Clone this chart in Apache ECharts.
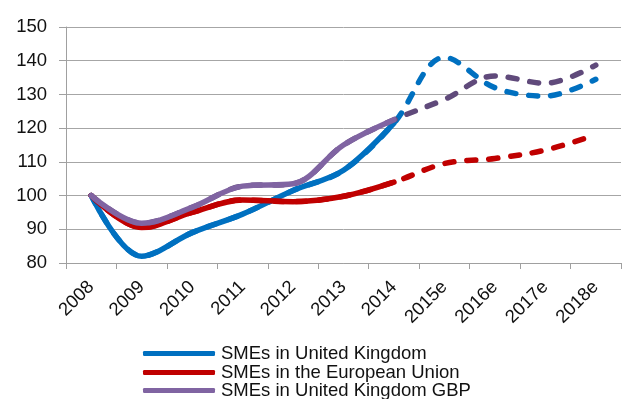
<!DOCTYPE html>
<html>
<head>
<meta charset="utf-8">
<script src="https://cdn.jsdelivr.net/npm/echarts@6/dist/echarts.min.js"></script>
<style>
  html, body { margin: 0; padding: 0; background: #fff; }
  #chart { width: 622px; height: 399px; }
</style>
</head>
<body>
<div id="chart"></div>
<script>
// Index values, 2008 = 100; years marked "e" are estimates
const years = ['2008', '2009', '2010', '2011', '2012', '2013', '2014', '2015e', '2016e', '2017e', '2018e'];
const smeUK = [100, 82, 89, 94.5, 101.5, 107.5, 121.5, 141, 132, 129.5, 134.5];
const smeEU = [100, 90.5, 95, 98.7, 98.2, 99.8, 104, 109.5, 111, 113.5, 118];
const smeUKGBP = [100, 91.8, 96.5, 102.8, 103.5, 115, 122.5, 128.5, 135.5, 133.3, 138.7];
const yTicks = { min: 80, max: 150, step: 10 };

const seriesNames = ['SMEs in United Kingdom', 'SMEs in the European Union', 'SMEs in United Kingdom GBP'];

// Last year with actual (non-estimated) figures
const lastActual = years.indexOf('2014');

const FONT = '"Liberation Sans", Arial, sans-serif';
const SMOOTH = 0.35;

function actualPart(values) {
  return values.map((v, i) => (i <= lastActual ? v : null));
}

// Each line: a dashed series over the full range, covered by a solid series for the actual years
function buildSeries(name, values, solidColor, dashColor, z) {
  return [
    {
      name: name + ' (estimate)',
      type: 'line',
      data: values,
      smooth: SMOOTH,
      symbol: 'none',
      z: z,
      lineStyle: { color: dashColor, width: 5.5, type: [9, 13], cap: 'round', join: 'round' },
      itemStyle: { color: dashColor },
      silent: true
    },
    {
      name: name,
      type: 'line',
      data: actualPart(values),
      smooth: SMOOTH,
      symbol: 'none',
      z: z + 1,
      lineStyle: { color: solidColor, width: 5.5, cap: 'round', join: 'round' },
      itemStyle: { color: solidColor }
    }
  ];
}

// One legend block per row so the stacked rows never wrap into columns
function legendRow(name, top) {
  return {
    data: [name],
    orient: 'vertical',
    left: 143,
    top: top,
    itemWidth: 72,
    itemHeight: 5,
    itemGap: 0,
    icon: 'roundRect',
    padding: 0,
    textStyle: { fontFamily: FONT, fontSize: 18.5, color: '#111', lineHeight: 18, padding: [0, 0, 0, 1] }
  };
}

const chart = echarts.init(document.getElementById('chart'), null, { renderer: 'canvas' });

chart.setOption({
  animation: false,
  backgroundColor: '#fff',
  textStyle: { fontFamily: FONT },
  grid: { left: 66, right: 1, top: 27, bottom: 136, containLabel: false },
  legend: [
    legendRow(seriesNames[0], 344),
    legendRow(seriesNames[1], 363),
    legendRow(seriesNames[2], 381)
  ],
  xAxis: {
    type: 'category',
    data: years,
    boundaryGap: true,
    axisLine: { show: true, lineStyle: { color: '#a0a0a0', width: 1 } },
    axisTick: { show: true, length: 6, lineStyle: { color: '#a0a0a0' } },
    axisLabel: {
      interval: 0,
      rotate: 45,
      margin: 21,
      fontFamily: FONT,
      fontSize: 18.5,
      color: '#111'
    },
    splitLine: { show: false }
  },
  yAxis: {
    type: 'value',
    min: yTicks.min,
    max: yTicks.max,
    interval: yTicks.step,
    axisLine: { show: true, lineStyle: { color: '#a0a0a0', width: 1 } },
    axisTick: { show: true, length: 7, lineStyle: { color: '#a0a0a0' } },
    axisLabel: { margin: 19, fontFamily: FONT, fontSize: 18.5, color: '#111' },
    splitLine: { show: true, lineStyle: { color: '#a6a6a6', width: 1 } }
  },
  series: [
    ...buildSeries(seriesNames[0], smeUK, '#0070C0', '#0070C0', 2),
    ...buildSeries(seriesNames[1], smeEU, '#C00000', '#C00000', 4),
    ...buildSeries(seriesNames[2], smeUKGBP, '#8064A2', '#604A7B', 6)
  ]
});
</script>
</body>
</html>
